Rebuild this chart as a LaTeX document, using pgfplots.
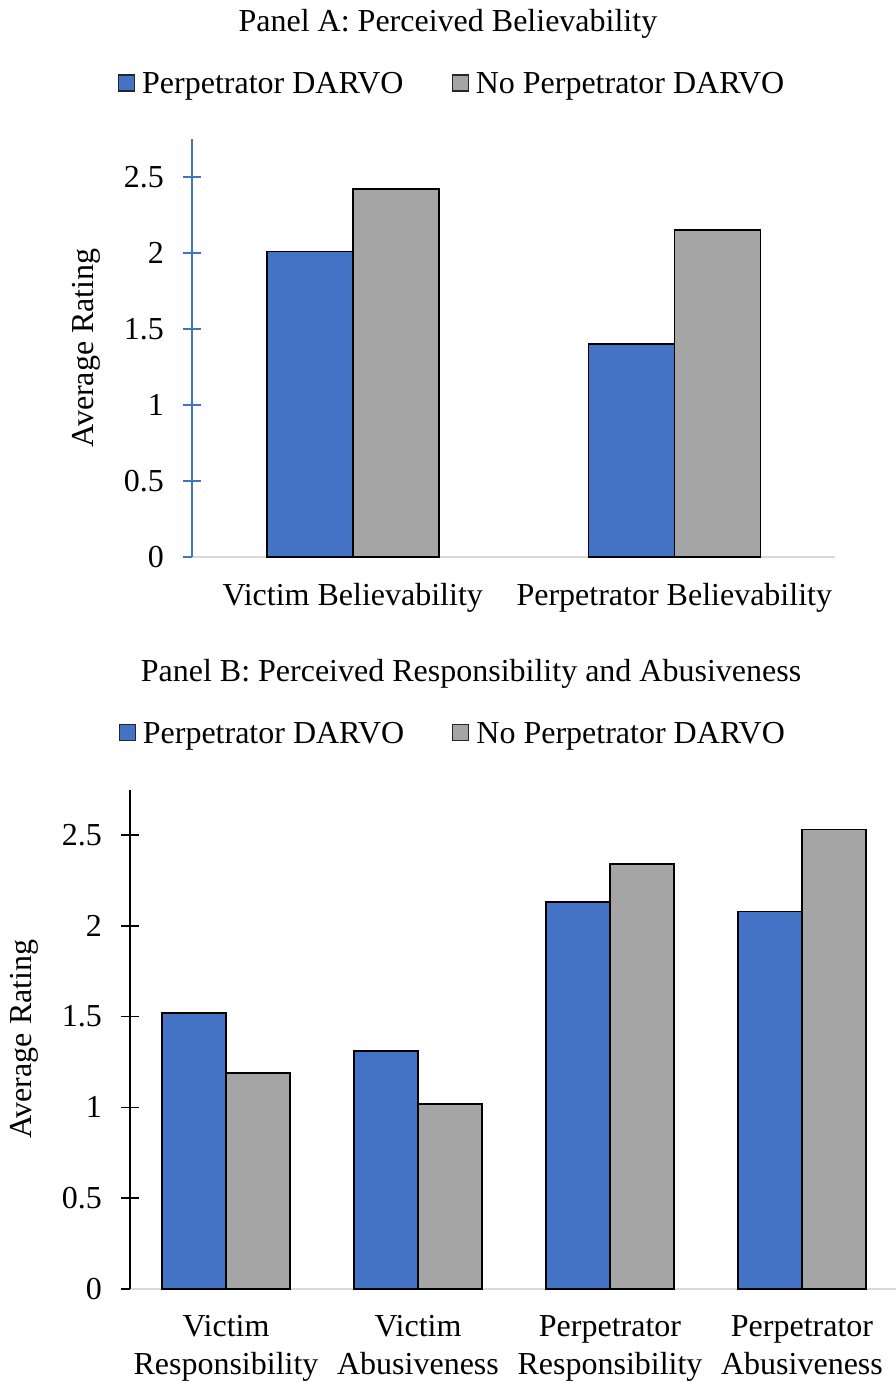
\documentclass[border=0pt]{standalone}
\usepackage{fontspec}
\setmainfont{Liberation Serif}
\usepackage{pgfplots}
\pgfplotsset{compat=1.18}
\definecolor{xblue}{HTML}{4472C4}
\definecolor{xgray}{HTML}{A5A5A5}
\definecolor{xaxis}{HTML}{D9D9D9}
\newcommand{\fs}{\fontsize{32pt}{38pt}\selectfont}
\pgfplotsset{
  common/.style={
    scale only axis,
    ybar=0pt,
    ymin=0, ymax=2.75,
    ytick={0,0.5,1,1.5,2,2.5},
    xtick=data,
    axis x line*=bottom,
    axis y line*=left,
    x axis line style={draw=xaxis, line width=1.5pt, -},
    y axis line style={line width=1.5pt, -},
    xtick style={draw=none},
    tick align=center,
    major tick length=18pt,
    ytick style={line width=1.5pt},
    /pgf/number format/assume math mode=true,
    tick label style={font=\fs},
    yticklabel style={anchor=east, inner sep=0pt, xshift=-19pt},
    xticklabel style={anchor=north, inner sep=0pt, yshift=-17pt, align=center},
    label style={font=\fs},
    title style={font=\fs, anchor=center, inner sep=0pt, yshift=-10pt},
    legend columns=2,
    legend style={draw=none, fill=none, font=\fs, anchor=center,
      nodes={inner sep=0pt},
      /tikz/every odd column/.append style={column sep=7pt},
      /tikz/every even column/.append style={column sep=48pt}},
    legend image code/.code={\draw[#1, draw=black!85, line width=1.2pt] (0pt,-7.5pt) rectangle (16pt,8.5pt);},
    every axis plot/.append style={draw=black, line width=1.5pt},
  }
}
\begin{document}
\begin{tikzpicture}[font=\fs]
\path[use as bounding box] (0pt,0pt) rectangle (895pt,-1383pt);
% Panel A
\begin{axis}[common,
  at={(192pt,-557pt)}, anchor=south west,
  width=643pt, height=418pt,
  xmin=-0.5, xmax=1.5,
  bar width=86pt,
  y axis line style={draw=xblue},
  ytick style={draw=xblue},
  xticklabels={Victim Believability, Perpetrator Believability},
  ylabel={Average Rating},
  ylabel style={at={(axis description cs:-0.165,0.5)}, anchor=center},
  title={Panel A: Perceived Believability},
  title style={at={(axis description cs:0.398,1.285)}},
  legend style={at={(axis description cs:0.403,1.133)}},
]
\addplot[fill=xblue] coordinates {(0,2.01) (1,1.40)};
\addplot[fill=xgray] coordinates {(0,2.42) (1,2.15)};
\legend{Perpetrator DARVO, No Perpetrator DARVO}
\end{axis}
% Panel B
\begin{axis}[common,
  at={(130pt,-1289pt)}, anchor=south west,
  width=768pt, height=499.4pt,
  xmin=-0.5, xmax=3.5,
  bar width=64pt,
  y axis line style={draw=black},
  ytick style={draw=black},
  xticklabels={{Victim\\Responsibility}, {Victim\\Abusiveness}, {Perpetrator\\Responsibility}, {Perpetrator\\Abusiveness}},
  ylabel={Average Rating},
  ylabel style={at={(axis description cs:-0.138,0.5)}, anchor=center},
  title={Panel B: Perceived Responsibility and Abusiveness},
  title style={at={(axis description cs:0.444,1.239)}},
  legend style={at={(axis description cs:0.419,1.113)}},
]
\addplot[fill=xblue] coordinates {(0,1.52) (1,1.31) (2,2.13) (3,2.08)};
\addplot[fill=xgray] coordinates {(0,1.19) (1,1.02) (2,2.34) (3,2.53)};
\legend{Perpetrator DARVO, No Perpetrator DARVO}
\end{axis}
\end{tikzpicture}
\end{document}
